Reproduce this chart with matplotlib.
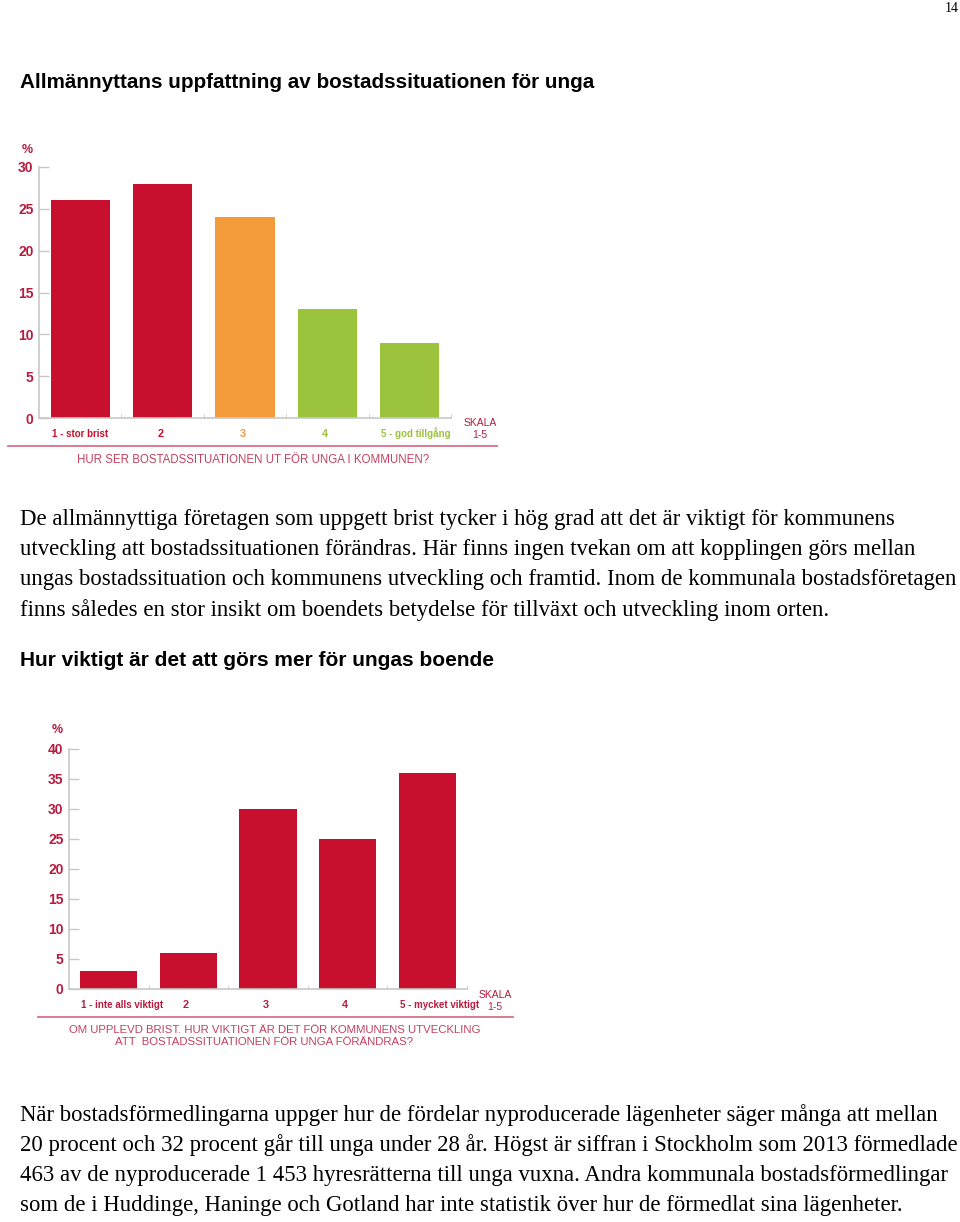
import matplotlib
matplotlib.use("Agg")
import matplotlib.pyplot as plt
from matplotlib.lines import Line2D

W, H = 960, 1222

# chart 1: Hur ser bostadssituationen ut för unga i kommunen?
cat1 = ["1 - stor brist", "2", "3", "4", "5 - god tillgång"]
val1 = [26, 28, 24, 13, 9]
col1 = ["#c8102e", "#c8102e", "#f39a3a", "#9bc33c", "#9bc33c"]

# chart 2: Hur viktigt är det för kommunens utveckling ...
cat2 = ["1 - inte alls viktigt", "2", "3", "4", "5 - mycket viktigt"]
val2 = [3, 6, 30, 25, 36]
col2 = ["#c8102e"] * 5

RED = "#c8102e"
LBL = "#b71c3f"
CAP = "#c2415f"
AXC = "#c8c8c8"
BW = 0.72

para1 = [
    "De allmännyttiga företagen som uppgett brist tycker i hög grad att det är viktigt för kommunens",
    "utveckling att bostadssituationen förändras. Här finns ingen tvekan om att kopplingen görs mellan",
    "ungas bostadssituation och kommunens utveckling och framtid. Inom de kommunala bostadsföretagen",
    "finns således en stor insikt om boendets betydelse för tillväxt och utveckling inom orten.",
]
para2 = [
    "När bostadsförmedlingarna uppger hur de fördelar nyproducerade lägenheter säger många att mellan",
    "20 procent och 32 procent går till unga under 28 år. Högst är siffran i Stockholm som 2013 förmedlade",
    "463 av de nyproducerade 1 453 hyresrätterna till unga vuxna. Andra kommunala bostadsförmedlingar",
    "som de i Huddinge, Haninge och Gotland har inte statistik över hur de förmedlat sina lägenheter.",
]

plt.rcParams["font.family"] = ["Liberation Sans", "DejaVu Sans"]
fig = plt.figure(figsize=(W / 100, H / 100), dpi=100)


def fx(x):
    return x / W


def fy(y):
    return 1 - y / H


def txt(x, y, s, **kw):
    fig.text(fx(x), fy(y), s, **kw)


def bar_chart(left, right, zero, top, ymax, step, cats, vals, cols, lblcols):
    ax = fig.add_axes([fx(left), fy(zero), (right - left) / W, (zero - top) / H])
    xs = list(range(len(vals)))
    ax.bar(xs, vals, width=BW, color=cols)
    ax.set_xlim(-0.5, len(vals) - 0.5)
    ax.set_ylim(0, ymax)
    for s in ["top", "right"]:
        ax.spines[s].set_visible(False)
    for s in ["left", "bottom"]:
        ax.spines[s].set_color(AXC)
        ax.spines[s].set_linewidth(1.2)
    ax.set_yticks(range(0, ymax + 1, step))
    ax.tick_params(axis="y", direction="in", length=7, width=1, color=AXC,
                   labelcolor=LBL, labelsize=10, pad=4)
    for t in ax.get_yticklabels():
        t.set_fontweight("bold")
    ax.set_xticks([])
    ax.set_xticks([i + 0.5 for i in xs], minor=True)
    ax.tick_params(axis="x", which="minor", direction="in", length=3, color=AXC,
                   labelbottom=False)
    # category labels: long ones start at the bar's left edge, digits centred
    for x, c, lc in zip(xs, cats, lblcols):
        if len(c) > 1:
            ax.annotate(c, xy=(x - BW / 2, 0), xycoords=("data", "axes fraction"),
                        xytext=(1, -19), textcoords="offset pixels", ha="left",
                        va="baseline", fontsize=7, fontweight="bold", color=lc)
        else:
            ax.annotate(c, xy=(x - 0.03, 0), xycoords=("data", "axes fraction"),
                        xytext=(0, -19), textcoords="offset pixels", ha="center",
                        va="baseline", fontsize=7.8, fontweight="bold", color=lc)
    return ax


txt(945, 8, "14", family="Liberation Serif", fontsize=10, va="center")
txt(20, 83, "Allmännyttans uppfattning av bostadssituationen för unga",
    fontsize=14.9, fontweight="bold", va="center")

bar_chart(39, 451, 418, 167, 30, 5, cat1, val1, col1, [RED, RED, "#f39a3a", "#9bc33c", "#9bc33c"])
txt(27, 150, "%", color=LBL, fontsize=9, fontweight="bold", ha="center", va="center")
txt(480, 423, "SKALA", color=LBL, fontsize=7.5, ha="center", va="center")
txt(480, 435, "1-5", color=LBL, fontsize=7.5, ha="center", va="center")
fig.add_artist(Line2D([fx(8), fx(497)], [fy(446), fy(446)], color="#d8708a", lw=1.3))
txt(253, 460, "HUR SER BOSTADSSITUATIONEN UT FÖR UNGA I KOMMUNEN?",
    color=CAP, fontsize=8.3, ha="center", va="center")

for i, line in enumerate(para1):
    txt(20, 520 + 30 * i, line, family="Liberation Serif", fontsize=16.4, va="center")

txt(20, 660, "Hur viktigt är det att görs mer för ungas boende",
    fontsize=15, fontweight="bold", va="center")

bar_chart(69, 467, 989, 749, 40, 5, cat2, val2, col2, [LBL] * 5)
txt(57, 730, "%", color=LBL, fontsize=9, fontweight="bold", ha="center", va="center")
txt(495, 995, "SKALA", color=LBL, fontsize=7.5, ha="center", va="center")
txt(495, 1007, "1-5", color=LBL, fontsize=7.5, ha="center", va="center")
fig.add_artist(Line2D([fx(38), fx(513)], [fy(1017), fy(1017)], color="#d8708a", lw=1.3))
txt(275, 1030, "OM UPPLEVD BRIST. HUR VIKTIGT ÄR DET FÖR KOMMUNENS UTVECKLING",
    color=CAP, fontsize=8.2, ha="center", va="center")
txt(264, 1042, "ATT  BOSTADSSITUATIONEN FÖR UNGA FÖRÄNDRAS?",
    color=CAP, fontsize=8.2, ha="center", va="center")

for i, line in enumerate(para2):
    txt(20, 1115 + 30 * i, line, family="Liberation Serif", fontsize=16.4, va="center")

fig.savefig("out.png", dpi=100, facecolor="white")
